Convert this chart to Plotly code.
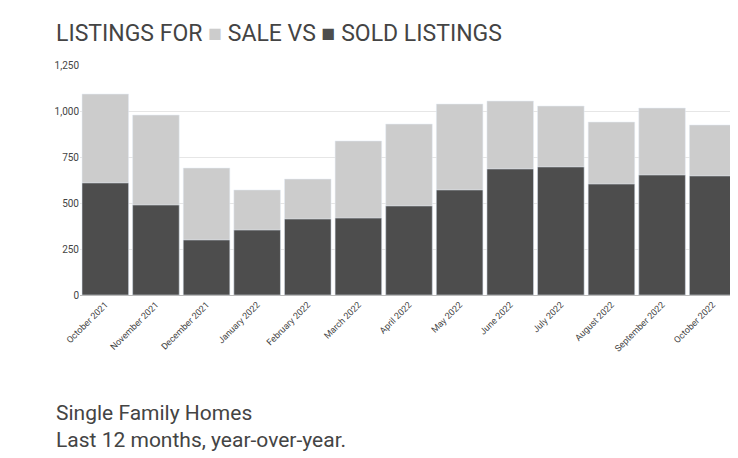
import plotly.graph_objects as go

months = ["October 2021", "November 2021", "December 2021", "January 2022", "February 2022",
          "March 2022", "April 2022", "May 2022", "June 2022", "July 2022",
          "August 2022", "September 2022", "October 2022"]
for_sale = [1092, 978, 690, 571, 630, 837, 929, 1038, 1054, 1027, 940, 1016, 924]
sold = [609, 489, 299, 353, 413, 418, 484, 571, 685, 696, 603, 652, 647]

LIGHT = "#cccccc"
DARK = "#4d4d4d"

fig = go.Figure()
fig.add_trace(go.Bar(x=months, y=for_sale, marker_color=LIGHT, name="For Sale"))
fig.add_trace(go.Bar(x=months, y=sold, marker_color=DARK, name="Sold"))

fig.update_layout(
    width=738, height=458, barmode="overlay", bargap=0.08,
    plot_bgcolor="white", paper_bgcolor="white", showlegend=False,
    font=dict(family="Roboto", color="#444"),
    margin=dict(l=72, r=8, t=57, b=171, autoexpand=False),
)
fig.add_annotation(
    text=("LISTINGS FOR <span style='color:%s'>■</span> SALE VS "
          "<span style='color:%s'>■</span> SOLD LISTINGS") % (LIGHT, DARK),
    xref="paper", yref="paper", x=-0.04, y=1.135, xanchor="left", yanchor="middle",
    showarrow=False, font=dict(size=23, color="#444", family="Roboto"))
fig.add_annotation(
    text="Single Family Homes<br>Last 12 months, year-over-year.",
    xref="paper", yref="paper", x=-0.04, y=-0.45, xanchor="left", yanchor="top",
    align="left", showarrow=False, font=dict(size=21, color="#444", family="Roboto"))

fig.update_yaxes(range=[0, 1250], tickvals=[0, 250, 500, 750, 1000, 1250],
                 tickformat=",", gridcolor="#e6e6e6", tickfont=dict(size=10, color="#444"),
                 zeroline=False)
fig.update_xaxes(tickangle=-45, tickfont=dict(size=9, color="#444"), showline=True,
                 linecolor="#bbb", automargin=False)

fig.write_html("out.html")
